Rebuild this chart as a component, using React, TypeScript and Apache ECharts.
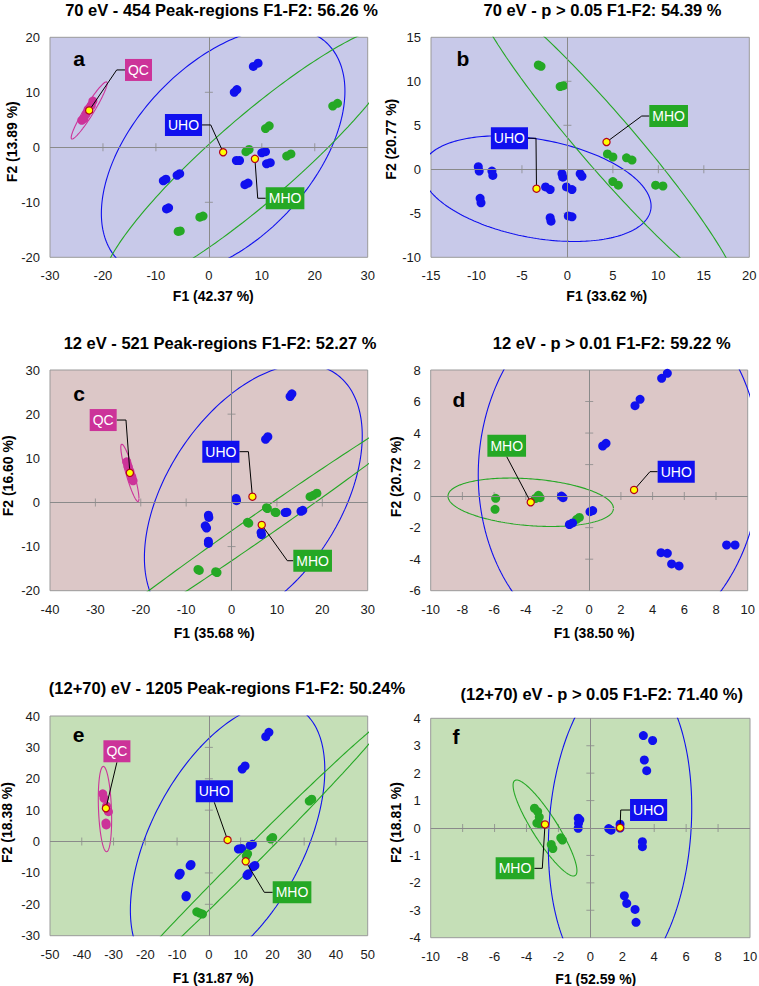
import React, { useEffect, useRef } from "react";
import * as echarts from "echarts";

const FONT = "'Liberation Sans', Arial, Helvetica, sans-serif";
const BLUE = "#1010ee";
const GREEN = "#25a825";
const MAGENTA = "#cc3399";
const BG_A = "#c8c9e9";
const BG_C = "#dcc7c7";
const BG_E = "#c5dfb7";

// ---------- Panel a ----------
const aTitle = "70 eV - 454 Peak-regions F1-F2: 56.26 %";
const aXName = "F1 (42.37 %)";
const aYName = "F2 (13.89 %)";
const aXRange = [-30, 30, 10];
const aYRange = [-20, 20, 10];
const aUHO = [[8.4, 14.7], [9.3, 15.3], [4.8, 10.0], [5.3, 10.5], [10.0, -1.0], [10.7, -0.8], [5.2, -2.4], [5.8, -2.4], [10.9, -3.0], [11.6, -2.8], [6.8, -6.8], [7.4, -6.5], [-8.6, -6.1], [-8.1, -5.8], [-6.0, -5.1], [-5.5, -4.8], [-8.0, -11.2], [-7.6, -11.0]];
const aMHO = [[23.4, 7.5], [24.3, 8.0], [10.7, 3.4], [11.4, 3.9], [7.0, -0.8], [7.6, -0.4], [14.7, -1.6], [15.5, -1.2], [-1.7, -12.7], [-1.1, -12.5], [-5.8, -15.3], [-5.4, -15.2]];
const aQC = [[-21.9, 8.4], [-22.2, 7.6], [-22.8, 6.9], [-23.2, 6.0], [-24.0, 4.9], [-23.6, 5.2]];
const aCentroidQC = [-22.6, 6.7];
const aCentroidUHO = [2.7, -0.9];
const aCentroidMHO = [8.7, -2.1];
// ellipse: [cx, cy, x half-extent, y half-extent, correlation]
const aEllipseQC = [-22.6, 6.7, 3.4, 5.2, 0.95];
const aEllipseUHO = [2.7, -0.9, 23, 22.7, 0.49];
const aEllipseMHO = [8.7, -2.1, 28.8, 24.4, 0.915];

// ---------- Panel b ----------
const bTitle = "70 eV - p > 0.05 F1-F2: 54.39 %";
const bXName = "F1 (33.62 %)";
const bYName = "F2 (20.77 %)";
const bXRange = [-15, 20, 5];
const bYRange = [-10, 15, 5];
const bUHO = [[-9.8, 0.3], [-9.7, -0.2], [-8.3, -0.2], [-8.2, -0.7], [-9.6, -3.3], [-9.5, -3.8], [-2.4, -2.0], [-1.9, -2.3], [-1.9, -5.5], [-1.8, -5.9], [-0.6, -0.5], [-0.5, -0.9], [-0.1, -2.0], [0.5, -2.3], [0.1, -5.3], [0.5, -5.4], [1.4, -0.5], [1.6, -0.8]];
const bMHO = [[-3.2, 11.85], [-2.9, 11.7], [-0.8, 9.4], [-0.45, 9.5], [4.4, 1.75], [5.0, 1.4], [6.5, 1.3], [7.1, 1.05], [5.0, -1.4], [5.6, -1.8], [9.7, -1.8], [10.5, -1.9]];
const bCentroidUHO = [-3.4, -2.2];
const bCentroidMHO = [4.3, 3.1];
const bEllipseUHO = [-3.4, -2.2, 12.6, 6.0, -0.33];
const bEllipseMHO = [4.3, 3.1, 14.5, 17.3, -0.963];

// ---------- Panel c ----------
const cTitle = "12 eV - 521 Peak-regions F1-F2: 52.27 %";
const cXName = "F1 (35.68 %)";
const cYName = "F2 (16.60 %)";
const cXRange = [-40, 30, 10];
const cYRange = [-20, 30, 10];
const cUHO = [[12.9, 24.0], [13.3, 24.6], [7.5, 14.3], [8.0, 14.9], [1.0, 0.9], [1.1, 0.4], [-5.1, -2.9], [-5.0, -3.4], [-5.8, -5.3], [-5.5, -5.8], [-5.1, -8.8], [-5.1, -9.3], [11.8, -2.3], [12.2, -2.2], [15.3, -2.0], [15.7, -1.8], [6.5, -6.8], [6.6, -7.3]];
const cMHO = [[17.3, 1.3], [18.0, 1.6], [18.8, 2.1], [7.7, -1.2], [7.9, -1.4], [9.6, -2.2], [9.8, -2.3], [3.5, -4.5], [3.8, -4.7], [-7.4, -15.2], [-7.1, -15.4], [-3.5, -15.7], [-3.2, -15.9]];
const cQC = [[-23.1, 9.2], [-22.8, 8.1], [-22.4, 7.0], [-22.0, 5.9], [-21.7, 4.9], [-21.9, 5.4]];
const cCentroidQC = [-22.4, 6.7];
const cCentroidUHO = [4.6, 1.3];
const cCentroidMHO = [6.65, -5.1];
const cEllipseQC = [-22.4, 6.7, 2.0, 6.5, -0.89];
const cEllipseUHO = [4.8, 1.3, 24, 30, 0.46];
const cEllipseMHO = [6.65, -5.1, 43.85, 31.4, 0.994];

// ---------- Panel d ----------
const dTitle = "12 eV - p > 0.01 F1-F2: 59.22 %";
const dXName = "F1 (38.50 %)";
const dYName = "F2 (20.72 %)";
const dXRange = [-10, 10, 2];
const dYRange = [-6, 8, 2];
const dUHO = [[4.57, 7.47], [4.93, 7.79], [2.89, 5.74], [3.21, 6.14], [0.85, 3.18], [1.06, 3.35], [-1.75, 0.0], [-1.65, -0.1], [-1.25, -1.8], [-1.05, -1.7], [0.05, -0.99], [0.22, -0.92], [4.53, -3.59], [4.93, -3.63], [5.2, -4.3], [5.67, -4.43], [8.67, -3.1], [9.2, -3.1]];
const dMHO = [[-5.9, -0.14], [-5.94, -0.84], [-3.4, -0.15], [-3.2, 0.05], [-3.1, -0.1], [-0.79, -1.47], [-0.62, -1.35]];
const dCentroidMHO = [-3.69, -0.39];
const dCentroidUHO = [2.83, 0.39];
const dEllipseMHO = [-3.69, -0.39, 5.22, 1.535, -0.25];
const dEllipseUHO = [1.9, 1.7, 8.9, 11.5, 0.03];

// ---------- Panel e ----------
const eTitle = "(12+70) eV - 1205 Peak-regions F1-F2: 50.24%";
const eXName = "F1 (31.87 %)";
const eYName = "F2 (18.38 %)";
const eXRange = [-50, 50, 10];
const eYRange = [-30, 40, 10];
const eUHO = [[17.9, 33.4], [18.9, 34.8], [10.5, 23.1], [11.4, 24.1], [9.3, -2.4], [10.3, -2.2], [13.0, -1.3], [13.7, -0.9], [14.0, -8.0], [14.5, -7.6], [12.0, -10.8], [12.4, -10.3], [-9.4, -10.7], [-9.0, -10.1], [-5.9, -7.7], [-5.6, -7.3], [-7.2, -17.6], [-7.1, -17.2]];
const eMHO = [[31.6, 12.9], [32.4, 13.5], [19.5, 0.8], [20.1, 1.3], [11.8, -4.6], [12.2, -3.9], [-3.8, -22.4], [-2.9, -22.8], [-2.0, -23.1]];
const eQC = [[-33.4, 15.2], [-33.0, 13.8], [-32.2, 11.3], [-31.6, 9.5], [-32.4, 5.9], [-32.3, 5.3]];
const eCentroidQC = [-32.4, 10.6];
const eCentroidUHO = [5.9, 0.5];
const eCentroidMHO = [11.6, -6.3];
const eEllipseQC = [-32.7, 10.35, 2.1, 13.6, -0.24];
const eEllipseUHO = [5.9, 0.5, 30.6, 43.5, 0.513];
const eEllipseMHO = [11.6, -6.3, 44.27, 45, 0.9961];

// ---------- Panel f ----------
const fTitle = "(12+70) eV - p > 0.05 F1-F2: 71.40 %)";
const fXName = "F1 (52.59 %)";
const fYName = "F2 (18.81 %)";
const fXRange = [-10, 10, 2];
const fYRange = [-4, 4, 1];
const fUHO = [[3.32, 3.37], [3.9, 3.19], [3.38, 2.48], [3.53, 2.09], [-0.76, 0.36], [-0.66, 0.3], [-0.74, 0.17], [-0.76, -0.01], [1.15, -0.02], [1.3, -0.08], [1.86, 0.14], [1.86, 0.0], [3.26, -0.5], [3.26, -0.68], [2.13, -2.47], [2.28, -2.75], [2.8, -2.97], [2.86, -3.44]];
const fMHO = [[-3.5, 0.72], [-3.3, 0.6], [-3.2, 0.4], [-3.35, 0.18], [-3.1, 0.12], [-1.85, -0.36], [-1.75, -0.44], [-2.45, -0.6], [-2.35, -0.75]];
const fCentroidMHO = [-2.84, 0.13];
const fCentroidUHO = [1.86, 0.01];
const fEllipseMHO = [-2.84, 0.0, 2.0, 1.75, -0.89];
const fEllipseUHO = [1.86, 0.01, 4.49, 5.79, 0.123];

type Group = {
  name: string;
  color: string;
  pts: number[][];
  centroid: number[];
  ellipse: number[];
  path: number[][];
  anchor: "left" | "right" | "bottom";
};
type Panel = {
  letter: string;
  title: string;
  xName: string;
  yName: string;
  xr: number[];
  yr: number[];
  bg: string;
  grid: { left: number; top: number; width: number; height: number };
  titleAt: number[];
  letterAt: number[];
  xNameAt: number[];
  yNameAt: number[];
  groups: Group[];
};

const panels: Panel[] = [
  {
    letter: "a", title: aTitle, xName: aXName, yName: aYName, xr: aXRange, yr: aYRange, bg: BG_A,
    grid: { left: 50, top: 37.3, width: 317.7, height: 220 },
    titleAt: [221.5, 9.5], letterAt: [79, 58], xNameAt: [213.3, 296], yNameAt: [11.5, 141.7],
    groups: [
      { name: "QC", color: MAGENTA, pts: aQC, centroid: aCentroidQC, ellipse: aEllipseQC, path: [[27.5, -40.5], [35.8, -40.5]], anchor: "left" },
      { name: "UHO", color: BLUE, pts: aUHO, centroid: aCentroidUHO, ellipse: aEllipseUHO, path: [[-12.4, -27.3], [-21.1, -27.3]], anchor: "right" },
      { name: "MHO", color: GREEN, pts: aMHO, centroid: aCentroidMHO, ellipse: aEllipseMHO, path: [[2.8, 39.4], [10.8, 39.4]], anchor: "left" },
    ],
  },
  {
    letter: "b", title: bTitle, xName: bXName, yName: bYName, xr: bXRange, yr: bYRange, bg: BG_A,
    grid: { left: 431, top: 37.3, width: 318.3, height: 220 },
    titleAt: [602.5, 9.5], letterAt: [463, 58], xNameAt: [606.8, 295.5], yNameAt: [390.5, 139.2],
    groups: [
      { name: "UHO", color: BLUE, pts: bUHO, centroid: bCentroidUHO, ellipse: bEllipseUHO, path: [[-0.5, -50.4], [-8.5, -50.4]], anchor: "right" },
      { name: "MHO", color: GREEN, pts: bMHO, centroid: bCentroidMHO, ellipse: bEllipseMHO, path: [[35.2, -26], [42.8, -26]], anchor: "left" },
    ],
  },
  {
    letter: "c", title: cTitle, xName: cXName, yName: cYName, xr: cXRange, yr: cYRange, bg: BG_C,
    grid: { left: 50, top: 370, width: 317.7, height: 220.7 },
    titleAt: [220, 343], letterAt: [79, 393], xNameAt: [214.2, 632.5], yNameAt: [7.5, 475.8],
    groups: [
      { name: "QC", color: MAGENTA, pts: cQC, centroid: cCentroidQC, ellipse: cEllipseQC, path: [[-3.9, -52.8], [-13.2, -52.8]], anchor: "right" },
      { name: "UHO", color: BLUE, pts: cUHO, centroid: cCentroidUHO, ellipse: cEllipseUHO, path: [[-4, -45], [-13, -45]], anchor: "right" },
      { name: "MHO", color: GREEN, pts: cMHO, centroid: cCentroidMHO, ellipse: cEllipseMHO, path: [[25.6, 35.8], [31.6, 35.8]], anchor: "left" },
    ],
  },
  {
    letter: "d", title: dTitle, xName: dXName, yName: dYName, xr: dXRange, yr: dYRange, bg: BG_C,
    grid: { left: 430.7, top: 370, width: 317, height: 220.7 },
    titleAt: [611.7, 343], letterAt: [459, 399.8], xNameAt: [594.2, 632.5], yNameAt: [396, 476.7],
    groups: [
      { name: "MHO", color: GREEN, pts: dMHO, centroid: dCentroidMHO, ellipse: dEllipseMHO, path: [[-24, -45.6]], anchor: "bottom" },
      { name: "UHO", color: BLUE, pts: dUHO, centroid: dCentroidUHO, ellipse: dEllipseUHO, path: [[15.9, -18.3], [23.6, -18.3]], anchor: "left" },
    ],
  },
  {
    letter: "e", title: eTitle, xName: eXName, yName: eYName, xr: eXRange, yr: eYRange, bg: BG_E,
    grid: { left: 50, top: 716, width: 317.7, height: 219.7 },
    titleAt: [227, 688], letterAt: [78.7, 734.8], xNameAt: [213.2, 977.5], yNameAt: [7, 822.5],
    groups: [
      { name: "QC", color: MAGENTA, pts: eQC, centroid: eCentroidQC, ellipse: eEllipseQC, path: [[11, -46]], anchor: "bottom" },
      { name: "UHO", color: BLUE, pts: eUHO, centroid: eCentroidUHO, ellipse: eEllipseUHO, path: [[-13.3, -37.7]], anchor: "bottom" },
      { name: "MHO", color: GREEN, pts: eMHO, centroid: eCentroidMHO, ellipse: eEllipseMHO, path: [[18.6, 31], [27, 31]], anchor: "left" },
    ],
  },
  {
    letter: "f", title: fTitle, xName: fXName, yName: fYName, xr: fXRange, yr: fYRange, bg: BG_E,
    grid: { left: 430.7, top: 718.3, width: 319.3, height: 219.4 },
    titleAt: [601.7, 694], letterAt: [456, 736.4], xNameAt: [595.8, 979], yNameAt: [396, 822.5],
    groups: [
      { name: "MHO", color: GREEN, pts: fMHO, centroid: fCentroidMHO, ellipse: fEllipseMHO, path: [[-2.7, 43.9], [-10.7, 43.9]], anchor: "right" },
      { name: "UHO", color: BLUE, pts: fUHO, centroid: fCentroidUHO, ellipse: fEllipseUHO, path: [[0.7, -17.7], [10, -17.7]], anchor: "left" },
    ],
  },
];

function ellipsePoints(e: number[]) {
  const [cx, cy, a, b, r] = e;
  const s = Math.sqrt(1 - r * r);
  const out: number[][] = [];
  for (let i = 0; i <= 240; i++) {
    const t = (i / 240) * 2 * Math.PI;
    out.push([cx + a * Math.cos(t), cy + b * (r * Math.cos(t) + s * Math.sin(t))]);
  }
  return out;
}

function innerTicks(r: number[]) {
  const [min, max, step] = r;
  const out: number[] = [];
  for (let v = min + step; v < max - 1e-9; v += step) {
    if (Math.abs(v) > 1e-9) out.push(+v.toFixed(6));
  }
  return out;
}

function buildOption() {
  const grid: any[] = [];
  const xAxis: any[] = [];
  const yAxis: any[] = [];
  const series: any[] = [];
  const graphic: any[] = [];
  const AXIS_GRAY = "#8a8a8a";

  panels.forEach((p, i) => {
    grid.push({
      ...p.grid,
      show: true,
      backgroundColor: p.bg,
      borderColor: "#9a9a9a",
      borderWidth: 1,
      containLabel: false,
      outerBoundsMode: "none",
    });
    const labelStyle = { fontSize: 13, color: "#1a1a1a", fontFamily: FONT, showMinLabel: true, showMaxLabel: true };
    xAxis.push({
      gridIndex: i, type: "value", min: p.xr[0], max: p.xr[1], interval: p.xr[2],
      axisLine: { show: false, onZero: false }, axisTick: { show: false }, splitLine: { show: false },
      axisLabel: { ...labelStyle, margin: 12 },
    });
    yAxis.push({
      gridIndex: i, type: "value", min: p.yr[0], max: p.yr[1], interval: p.yr[2],
      axisLine: { show: false, onZero: false }, axisTick: { show: false }, splitLine: { show: false },
      axisLabel: { ...labelStyle, margin: 10 },
    });

    // central axes with crossing ticks
    series.push({
      type: "scatter", xAxisIndex: i, yAxisIndex: i, silent: true, z: 1,
      symbol: "rect", symbolSize: [1, 8],
      itemStyle: { color: AXIS_GRAY },
      data: innerTicks(p.xr).map((v) => [v, 0]),
      markLine: {
        silent: true, symbol: ["none", "none"], label: { show: false },
        lineStyle: { color: AXIS_GRAY, width: 1, type: "solid" },
        emphasis: { disabled: true },
        data: [{ xAxis: 0 }, { yAxis: 0 }],
      },
    });
    series.push({
      type: "scatter", xAxisIndex: i, yAxisIndex: i, silent: true, z: 1,
      symbol: "rect", symbolSize: [8, 1],
      itemStyle: { color: AXIS_GRAY },
      data: innerTicks(p.yr).map((v) => [0, v]),
    });

    p.groups.forEach((g) => {
      series.push({
        type: "line", xAxisIndex: i, yAxisIndex: i, silent: true, z: 2,
        showSymbol: false, symbol: "none", clip: true,
        lineStyle: { color: g.color, width: 1.1 },
        data: ellipsePoints(g.ellipse),
      });
    });
    p.groups.forEach((g) => {
      series.push({
        type: "scatter", xAxisIndex: i, yAxisIndex: i, silent: true, z: 3,
        symbol: "circle", symbolSize: 9,
        itemStyle: { color: g.color, opacity: 1 },
        data: g.pts,
      });
    });
    p.groups.forEach((g) => {
      series.push({
        type: "custom", xAxisIndex: i, yAxisIndex: i, silent: true, z: 5,
        data: [g.centroid],
        renderItem: (_params: any, api: any) => {
          const c = api.coord([api.value(0), api.value(1)]);
          const pts = [c, ...g.path.map(([dx, dy]) => [c[0] + dx, c[1] + dy])];
          const last = pts[pts.length - 1];
          const align = g.anchor === "left" ? "left" : g.anchor === "right" ? "right" : "center";
          const vAlign = g.anchor === "bottom" ? "bottom" : "middle";
          return {
            type: "group",
            children: [
              { type: "polyline", shape: { points: pts }, style: { stroke: "#000", lineWidth: 1, fill: null } },
              { type: "circle", shape: { cx: c[0], cy: c[1], r: 3.6 }, style: { fill: "#ffff00", stroke: "#b3001b", lineWidth: 1.2 } },
              {
                type: "text", x: last[0], y: last[1],
                style: {
                  text: g.name, fill: "#ffffff", backgroundColor: g.color,
                  padding: [4, 3, 4, 3], lineHeight: 14,
                  font: `14px ${FONT}`, align, verticalAlign: vAlign,
                },
              },
            ],
          };
        },
      });
    });

    // texts
    graphic.push({
      type: "text", x: p.titleAt[0], y: p.titleAt[1], silent: true,
      style: { text: p.title, fill: "#000", font: `bold 16.5px ${FONT}`, align: "center", verticalAlign: "middle", textAlign: "center", textVerticalAlign: "middle" },
    });
    graphic.push({
      type: "text", x: p.letterAt[0], y: p.letterAt[1], silent: true, z: 100,
      style: { text: p.letter, fill: "#000", font: `bold 21px ${FONT}`, align: "center", verticalAlign: "middle", textAlign: "center", textVerticalAlign: "middle" },
    });
    graphic.push({
      type: "text", x: p.xNameAt[0], y: p.xNameAt[1], silent: true,
      style: { text: p.xName, fill: "#000", font: `bold 14px ${FONT}`, align: "center", verticalAlign: "middle", textAlign: "center", textVerticalAlign: "middle" },
    });
    graphic.push({
      type: "text", x: p.yNameAt[0], y: p.yNameAt[1], rotation: Math.PI / 2, silent: true,
      style: { text: p.yName, fill: "#000", font: `bold 14px ${FONT}`, align: "center", verticalAlign: "middle", textAlign: "center", textVerticalAlign: "middle" },
    });
  });

  return {
    animation: false,
    backgroundColor: "#ffffff",
    textStyle: { fontFamily: FONT },
    grid,
    xAxis,
    yAxis,
    series,
    graphic,
  };
}

export default function App() {
  const ref = useRef<HTMLDivElement>(null);
  useEffect(() => {
    if (!ref.current) return;
    const chart = echarts.init(ref.current, null, { renderer: "svg" });
    chart.setOption(buildOption() as any);
    return () => chart.dispose();
  }, []);
  return (
    <div
      ref={ref}
      style={{ position: "fixed", left: 0, top: 0, width: 759, height: 986, background: "#fff" }}
    />
  );
}
